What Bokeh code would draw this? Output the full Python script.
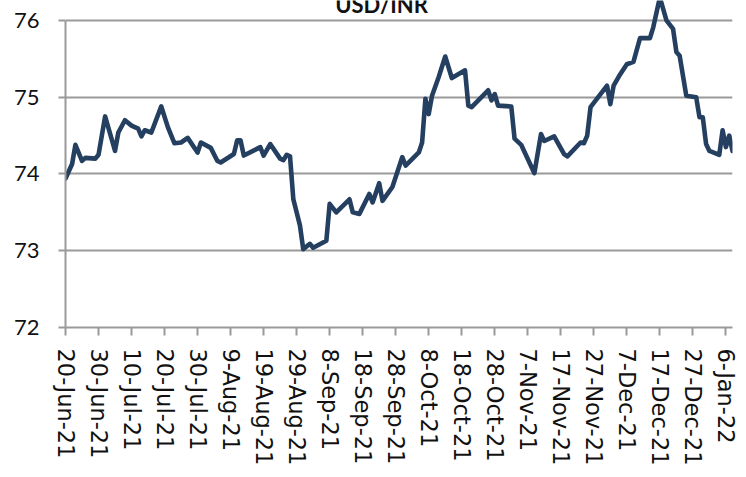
from datetime import datetime
from bokeh.plotting import figure
from bokeh.models import Range1d, FixedTicker, Label
from bokeh.embed import file_html
from bokeh.resources import INLINE

title_text = "USD/INR"

dates = [
    "2021-06-20", "2021-06-22", "2021-06-23", "2021-06-25", "2021-06-26", "2021-06-29",
    "2021-06-30", "2021-07-02", "2021-07-05", "2021-07-06", "2021-07-08", "2021-07-10",
    "2021-07-12", "2021-07-13", "2021-07-14", "2021-07-16", "2021-07-19", "2021-07-21",
    "2021-07-23", "2021-07-25", "2021-07-27", "2021-07-30", "2021-07-31", "2021-08-03",
    "2021-08-05", "2021-08-06", "2021-08-10", "2021-08-11", "2021-08-12", "2021-08-13",
    "2021-08-18", "2021-08-19", "2021-08-21", "2021-08-24", "2021-08-25", "2021-08-26",
    "2021-08-27", "2021-08-28", "2021-08-30", "2021-08-31", "2021-09-02", "2021-09-03",
    "2021-09-07", "2021-09-08", "2021-09-10", "2021-09-14", "2021-09-15", "2021-09-17",
    "2021-09-20", "2021-09-21", "2021-09-23", "2021-09-24", "2021-09-27", "2021-09-29",
    "2021-09-30", "2021-10-01", "2021-10-05", "2021-10-06", "2021-10-07", "2021-10-08",
    "2021-10-09", "2021-10-11", "2021-10-13", "2021-10-15", "2021-10-19", "2021-10-20",
    "2021-10-21", "2021-10-26", "2021-10-27", "2021-10-28", "2021-10-29", "2021-11-02",
    "2021-11-03", "2021-11-05", "2021-11-09", "2021-11-11", "2021-11-12", "2021-11-15",
    "2021-11-18", "2021-11-19", "2021-11-23", "2021-11-24", "2021-11-25", "2021-11-26",
    "2021-12-01", "2021-12-02", "2021-12-03", "2021-12-05", "2021-12-07", "2021-12-09",
    "2021-12-11", "2021-12-14", "2021-12-15", "2021-12-17", "2021-12-19", "2021-12-21",
    "2021-12-22", "2021-12-23", "2021-12-25", "2021-12-28", "2021-12-29", "2021-12-30",
    "2021-12-31", "2022-01-01", "2022-01-04", "2022-01-05", "2022-01-06", "2022-01-07",
    "2022-01-08",
]

usd_inr = [
    73.94, 74.13, 74.38, 74.17, 74.21, 74.20,
    74.25, 74.75, 74.30, 74.54, 74.70, 74.63,
    74.59, 74.49, 74.57, 74.54, 74.88, 74.61,
    74.40, 74.41, 74.47, 74.28, 74.41, 74.34,
    74.17, 74.15, 74.26, 74.44, 74.44, 74.24,
    74.35, 74.24, 74.39, 74.20, 74.18, 74.25,
    74.23, 73.67, 73.33, 73.02, 73.09, 73.04,
    73.13, 73.61, 73.50, 73.67, 73.50, 73.48,
    73.74, 73.63, 73.88, 73.65, 73.83, 74.09,
    74.22, 74.11, 74.28, 74.41, 74.98, 74.78,
    75.02, 75.26, 75.53, 75.25, 75.35, 74.89,
    74.87, 75.09, 74.96, 75.04, 74.89, 74.88,
    74.46, 74.38, 74.01, 74.52, 74.43, 74.49,
    74.26, 74.23, 74.41, 74.40, 74.50, 74.87,
    75.15, 74.91, 75.15, 75.30, 75.43, 75.46,
    75.77, 75.77, 75.91, 76.30, 76.00, 75.89,
    75.59, 75.54, 75.02, 75.00, 74.74, 74.74,
    74.39, 74.30, 74.25, 74.57, 74.35, 74.50,
    74.30,
]

x_tick_labels = [
    "20-Jun-21", "30-Jun-21", "10-Jul-21", "20-Jul-21", "30-Jul-21", "9-Aug-21",
    "19-Aug-21", "29-Aug-21", "8-Sep-21", "18-Sep-21", "28-Sep-21", "8-Oct-21",
    "18-Oct-21", "28-Oct-21", "7-Nov-21", "17-Nov-21", "27-Nov-21", "7-Dec-21",
    "17-Dec-21", "27-Dec-21", "6-Jan-22",
]
y_ticks = [72, 73, 74, 75, 76]

x_dates = [datetime.strptime(d, "%Y-%m-%d") for d in dates]
tick_dates = [datetime.strptime(t, "%d-%b-%y") for t in x_tick_labels]
epoch = datetime(1970, 1, 1)
tick_ms = [(t - epoch).total_seconds() * 1000.0 for t in tick_dates]

p = figure(
    width=746, height=477,
    x_axis_type="datetime",
    output_backend="svg", toolbar_location=None,
    min_border_left=65, min_border_right=14, min_border_top=0, min_border_bottom=150,
)
p.x_range = Range1d(x_dates[0], x_dates[-1])
p.y_range = Range1d(72, 76.26)

p.line(x_dates, usd_inr, line_color="#243f60", line_width=4.6,
       line_join="round", line_cap="round")

p.outline_line_color = None
p.background_fill_color = "white"
p.border_fill_color = "white"
p.xgrid.grid_line_color = None
p.ygrid.grid_line_color = "#9a9a9a"
p.ygrid.grid_line_width = 2

p.xaxis.ticker = FixedTicker(ticks=tick_ms)
p.xaxis.major_label_overrides = {ms: lab for ms, lab in zip(tick_ms, x_tick_labels)}
p.xaxis.major_label_orientation = "vertical"
p.xaxis.major_label_text_font = "DejaVu Sans"
p.xaxis.major_label_text_font_size = "22.5px"
p.xaxis.major_label_text_color = "#111111"
p.xaxis.major_label_standoff = 13
p.xaxis.major_tick_in = 0
p.xaxis.major_tick_out = 8
p.xaxis.minor_tick_line_color = None

p.yaxis.ticker = FixedTicker(ticks=y_ticks)
p.yaxis.bounds = (72, 76)
p.yaxis.major_label_text_font = "Lato"
p.yaxis.major_label_text_font_size = "22px"
p.yaxis.major_label_text_color = "#111111"
p.yaxis.major_label_standoff = 19
p.yaxis.major_tick_in = 0
p.yaxis.major_tick_out = 7
p.yaxis.minor_tick_line_color = None

for ax in (p.xaxis, p.yaxis):
    ax.axis_line_color = "#9a9a9a"
    ax.axis_line_width = 2
    ax.major_tick_line_color = "#9a9a9a"
    ax.major_tick_line_width = 2

title = Label(x=316, y=323, x_units="screen", y_units="screen", text=title_text,
              text_font="Lato", text_font_style="bold", text_font_size="22px",
              text_align="center", text_baseline="alphabetic", text_color="#111111")
p.add_layout(title)

open("out.html", "w").write(file_html(p, INLINE))
